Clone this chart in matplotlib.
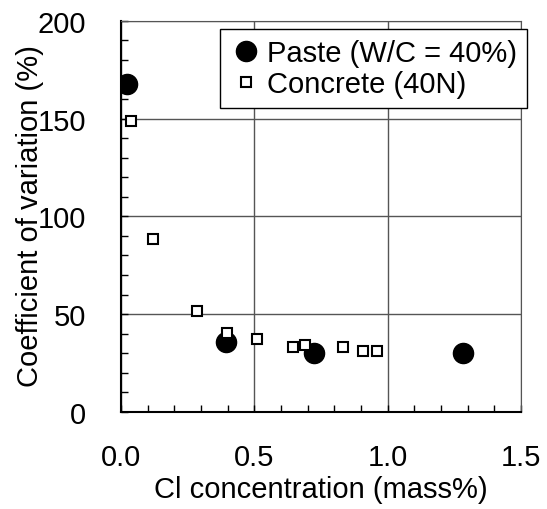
import numpy as np
from matplotlib import pyplot as plt
from matplotlib.ticker import MultipleLocator

plt.rcParams['font.family'] = ['Liberation Sans', 'DejaVu Sans']

# Paste (W/C = 40%)
paste_x = [0.024, 0.394, 0.725, 1.283]
paste_y = [167.7, 36.0, 30.0, 30.0]

# Concrete (40N)
conc_x = [0.037, 0.119, 0.284, 0.398, 0.511, 0.646, 0.690, 0.834, 0.908, 0.960]
conc_y = [148.5, 88.4, 51.7, 40.6, 37.2, 33.1, 34.3, 33.1, 31.3, 31.3]

fig = plt.figure(figsize=(5.47, 5.10), dpi=100)
ax = fig.add_axes([0.2212, 0.1902, 0.7313, 0.7673])

ax.grid(True, color='#555555', linewidth=1.0)
ax.set_axisbelow(True)

ax.plot(paste_x, paste_y, 'o', color='black', markersize=14.5, linestyle='none',
        label='Paste (W/C = 40%)', zorder=3)
ax.plot(conc_x, conc_y, 's', markerfacecolor='white', markeredgecolor='black',
        markeredgewidth=1.5, markersize=7, linestyle='none',
        label='Concrete (40N)', zorder=4)

ax.set_xlim(0, 1.5)
ax.set_ylim(0, 200)
ax.xaxis.set_major_locator(MultipleLocator(0.5))
ax.xaxis.set_minor_locator(MultipleLocator(0.1))
ax.yaxis.set_major_locator(MultipleLocator(50))
ax.yaxis.set_minor_locator(MultipleLocator(10))
ax.xaxis.set_major_formatter(plt.FuncFormatter(lambda v, p: '%.1f' % v))

ax.tick_params(axis='both', which='both', direction='in', length=5, width=1,
               labelsize=21, top=False, right=False)
ax.tick_params(axis='x', which='major', pad=22)
ax.tick_params(axis='y', which='major', pad=25)

for s in ['left', 'bottom']:
    ax.spines[s].set_linewidth(1.5)
for s in ['top', 'right']:
    ax.spines[s].set_color('#555555')

ax.set_xlabel('Cl concentration (mass%)', fontsize=21)
ax.xaxis.set_label_coords(0.5, -0.16)
ax.set_ylabel('Coefficient of variation (%)', fontsize=21)
ax.yaxis.set_label_coords(-0.193, 0.503)

leg = ax.legend(loc='upper right', bbox_to_anchor=(1.015, 0.979), fontsize=21,
                frameon=True, fancybox=False, edgecolor='black', framealpha=1,
                handletextpad=0.15, borderpad=0.35, labelspacing=0.1,
                handlelength=1.1, borderaxespad=0)
leg.get_frame().set_linewidth(1.0)

plt.savefig('out.png', dpi=100)
plt.close()
